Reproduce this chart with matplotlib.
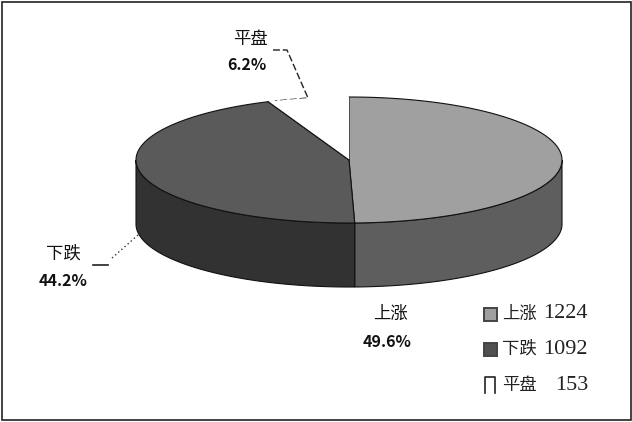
import numpy as np
import matplotlib
matplotlib.use("Agg")
from matplotlib import pyplot as plt
from matplotlib.patches import Rectangle

plt.rcParams['font.family'] = ['Noto Sans CJK SC', 'DejaVu Sans']

categories = ["上涨", "下跌", "平盘"]
counts = [1224, 1092, 153]
percents = ["49.6%", "44.2%", "6.2%"]
top_colors = ["#a0a0a0", "#5a5a5a", "#ffffff"]
side_colors = ["#5e5e5e", "#323232", "#ffffff"]
legend_colors = ["#a0a0a0", "#505050", "#ffffff"]

# pie geometry in pixels of the image
cx, cy = 349, 160
rx, ry = 213, 63
depth = 64

fig = plt.figure(figsize=(6.32, 4.22), dpi=100)
ax = fig.add_axes([0, 0, 1, 1])
ax.set_xlim(0, 632)
ax.set_ylim(422, 0)
ax.axis("off")

ax.add_patch(Rectangle((1.5, 1.5), 629, 418, fill=False, ec="#222222", lw=1.2))


def rim(a, b):
    t = np.linspace(a, b, 200)
    return cx + rx * np.sin(t), cy - ry * np.cos(t)


edges = np.concatenate([[0], np.cumsum(counts)]) / sum(counts) * 2 * np.pi

# side walls, only the front half shows
for i in range(3):
    a = max(edges[i], np.pi / 2)
    b = min(edges[i + 1], 3 * np.pi / 2)
    if b <= a:
        continue
    x, y = rim(a, b)
    ax.fill(np.r_[x, x[::-1]], np.r_[y, y[::-1] + depth],
            fc=side_colors[i], ec="#111111", lw=0.8, zorder=2)

# top face
for i in range(3):
    x, y = rim(edges[i], edges[i + 1])
    ax.fill(np.r_[cx, x], np.r_[cy, y], fc=top_colors[i],
            ec="#111111" if i < 2 else "none", lw=0.8, zorder=3)
# the white slice has only its two radial lines
x, y = rim(edges[2], edges[2])
ax.plot([cx, x[0]], [cy, y[0]], color="#111111", lw=0.8, zorder=4)

# labels: name centre, percent centre
name_pos = [(390, 314), (63, 254), (250, 39)]
pct_pos = [(387, 342), (63, 281), (247, 65)]
for name, pct, np_, pp in zip(categories, percents, name_pos, pct_pos):
    ax.text(np_[0], np_[1], name, fontsize=12.5, ha="center", va="center", color="#111111")
    ax.text(pp[0], pp[1], pct, fontsize=11.5, ha="center", va="center", color="#111111",
            fontweight="bold")

# leader lines
ax.plot([273, 287, 308, 275], [50, 50, 98, 101], color="#222222", lw=1,
        ls=(0, (5, 2)), zorder=1)
ax.plot([93, 108], [265, 265], color="#222222", lw=1.2)
ax.plot([112, 138], [258, 235], color="#333333", lw=1, ls=(0, (1, 2)))

# legend
legend_y = [314, 349, 385]
for name, n, col, ly in zip(categories, counts, legend_colors, legend_y):
    if col == "#ffffff":
        # open at the bottom in the reference
        ax.plot([485, 485, 495, 495], [ly + 8, ly - 8, ly - 8, ly + 8], color="#222222", lw=1.2)
    else:
        ax.add_patch(Rectangle((484, ly - 6.5), 13, 13, fc=col, ec="#444444", lw=1.4))
    ax.text(502, ly, name, fontsize=12.5, ha="left", va="center", color="#222222")
    ax.text(588, ly, str(n), fontsize=16, ha="right", va="center",
            family="Liberation Serif", color="#222222")

fig.savefig("out.png", dpi=100)
